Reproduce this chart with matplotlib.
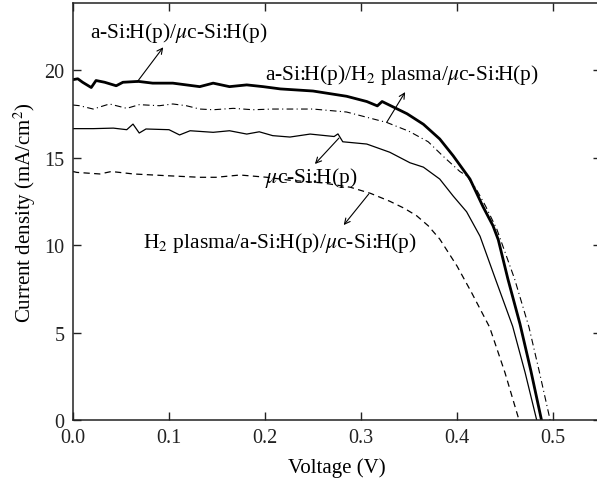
import matplotlib
matplotlib.use("Agg")
from matplotlib import pyplot as plt

# J-V data (voltage in V, current density in mA/cm2)
v_a = [0, .005, .010, .019, .024, .033, .045, .052, .068, .083, .104, .132, .146, .163, .181, .198,
       .216, .25, .285, .306, .317, .322, .348, .365, .382, .396, .4135, .427, .4375, .443, .453,
       .4656, .477, .488]
j_a = [19.45, 19.5, 19.3, 19.0, 19.4, 19.3, 19.1, 19.3, 19.35, 19.25, 19.25, 19.05, 19.25, 19.05,
       19.15, 19.05, 18.92, 18.8, 18.5, 18.2, 17.95, 18.2, 17.5, 16.9, 16.06, 15.1, 13.77, 12.2,
       11.1, 10.3, 8.06, 5.49, 2.8, 0.0]

v_b = [0, .007, .021, .038, .056, .069, .09, .104, .118, .132, .146, .167, .1875, .208, .25, .285,
       .327, .35, .37, .385, .403, .41, .42, .43, .4415, .46, .475, .486, .497]
j_b = [18.0, 17.96, 17.77, 18.06, 17.81, 18.02, 17.96, 18.06, 17.96, 17.77, 17.73, 17.81, 17.73,
       17.77, 17.77, 17.6, 17.0, 16.5, 15.9, 15.1, 14.2, 13.96, 13.2, 12.2, 10.9, 8.06, 5.3, 2.7, 0.0]

v_c = [0, .021, .042, .056, .0625, .069, .076, .10, .111, .122, .146, .163, .181, .194, .208, .226,
       .247, .272, .276, .281, .306, .33, .351, .365, .382, .396, .41, .424, .44, .458, .471, .483]
j_c = [16.65, 16.65, 16.68, 16.59, 16.91, 16.4, 16.63, 16.59, 16.29, 16.53, 16.44, 16.53, 16.34,
       16.47, 16.25, 16.17, 16.34, 16.2, 16.35, 15.9, 15.77, 15.3, 14.7, 14.45, 13.77, 12.8, 11.9,
       10.5, 8.06, 5.35, 2.7, 0.0]

v_d = [0, .004, .028, .04, .063, .098, .132, .149, .174, .202, .226, .26, .289, .31, .33, .345,
       .358, .37, .382, .4, .415, .434, .45, .4646]
j_d = [14.2, 14.15, 14.06, 14.2, 14.06, 13.96, 13.87, 13.87, 14.0, 13.87, 13.7, 13.55, 13.3, 12.95,
       12.5, 12.1, 11.67, 11.1, 10.34, 8.8, 7.3, 5.3, 2.7, 0.0]

labels = [r"a-Si:H(p)/$\mu$c-Si:H(p)",
          r"a-Si:H(p)/H$_2$ plasma/$\mu$c-Si:H(p)",
          r"$\mu$c-Si:H(p)",
          r"H$_2$ plasma/a-Si:H(p)/$\mu$c-Si:H(p)"]

plt.rcParams["font.family"] = ["Liberation Serif", "DejaVu Serif"]
plt.rcParams["mathtext.fontset"] = "stix"

fig = plt.figure(figsize=(5.97, 4.85), dpi=100)
ax = fig.add_axes([73 / 597, 64 / 485, 528 / 597, 417 / 485])

ax.plot(v_a, j_a, color="black", lw=2.0)
ax.plot(v_b, j_b, color="black", lw=0.8, dashes=[6, 3, 1, 3])
ax.plot(v_c, j_c, color="black", lw=0.9)
ax.plot(v_d, j_d, color="black", lw=0.9, dashes=[5, 3.5])

ax.set_xlim(0, 0.55)
ax.set_ylim(0, 23.83)
ax.set_xticks([0.0, 0.1, 0.2, 0.3, 0.4, 0.5])
ax.set_yticks([0, 5, 10, 15, 20])
ax.set_xticklabels(["0.0", "0.1", "0.2", "0.3", "0.4", "0.5"])
ax.tick_params(direction="in", length=6, width=1, top=True, right=True,
               labelsize=14.5, pad=6, colors="#222222")
for s in ax.spines.values():
    s.set_linewidth(1.1)
    s.set_color("#222222")

ax.set_xlabel("Voltage (V)", fontsize=15, labelpad=7)
ax.set_ylabel(r"Current density (mA/cm$^2$)", fontsize=15, labelpad=5)

arrow = dict(arrowstyle="->", color="black", lw=0.8, shrinkA=0, shrinkB=0)
# (text position, arrow tail on curve, arrow head)
ax.text(0.0177, 22.2, labels[0], fontsize=15.5, va="center")
ax.annotate("", xy=(0.094, 21.3), xytext=(0.0667, 19.31), arrowprops=arrow)
ax.text(0.2, 19.77, labels[1], fontsize=15.5, va="center")
ax.annotate("", xy=(0.346, 18.74), xytext=(0.327, 17.03), arrowprops=arrow)
ax.text(0.2, 13.9, labels[2], fontsize=15.5, va="center")
ax.annotate("", xy=(0.252, 14.63), xytext=(0.277, 16.11), arrowprops=arrow)
ax.text(0.073, 10.17, labels[3], fontsize=15.5, va="center")
ax.annotate("", xy=(0.282, 11.14), xytext=(0.308, 12.91), arrowprops=arrow)

fig.savefig("out.png", dpi=100)
